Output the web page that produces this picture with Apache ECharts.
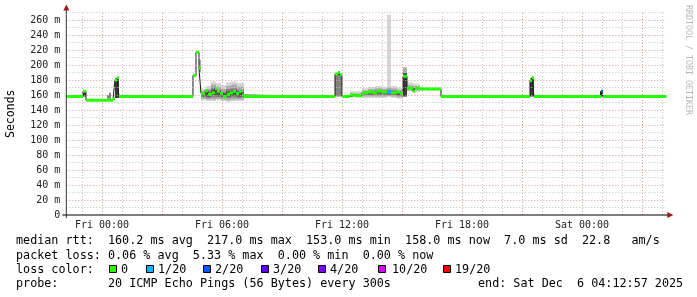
<!DOCTYPE html>
<html>
<head>
<meta charset="utf-8">
<script src="https://cdn.jsdelivr.net/npm/echarts@6/dist/echarts.min.js"></script>
<style>
html,body{margin:0;padding:0;background:#fff;}
#c{width:697px;height:297px;}
</style>
</head>
<body>
<div id="c"></div>
<script>
// ---- axis ranges (hours relative to Fri 00:00) ----
const hourStart = -1.784;
const hourEnd = 28.216;
const yMax = 270;

// ---- tick labels ----
const xTickHours = [0, 6, 12, 18, 24];
const xTickLabels = ['Fri 00:00', 'Fri 06:00', 'Fri 12:00', 'Fri 18:00', 'Sat 00:00'];
const yTickValues = [0, 20, 40, 60, 80, 100, 120, 140, 160, 180, 200, 220, 240, 260];
const yTickLabels = ['0', '20 m', '40 m', '60 m', '80 m', '100 m', '120 m', '140 m', '160 m', '180 m', '200 m', '220 m', '240 m', '260 m'];

// ---- grid lines ----
const xHourGrid = [-1, 1, 2, 4, 5, 7, 8, 10, 11, 13, 14, 16, 17, 19, 20, 22, 23, 25, 26, 28];
const x3HourGrid = [0, 3, 6, 9, 12, 15, 18, 21, 24, 27];
const yMinorGrid = [10, 30, 50, 70, 90, 110, 130, 150, 170, 190, 210, 230, 250, 270];
const yMajorGrid = [20, 40, 60, 80, 100, 120, 140, 160, 180, 200, 220, 240, 260];

// ---- median rtt (ms), each value holds from its time to the next time ----
const medianTimes = [-1.784, -0.95, -0.80, 0.55, 0.65, 0.75, 0.85, 4.55, 4.70, 4.85, 4.95, 5.15, 5.30, 5.50, 5.65, 5.75, 5.90, 6.05, 6.25, 6.40, 6.55, 6.70, 6.85, 7.00, 7.10, 11.65, 11.80, 11.90, 12.00, 12.40, 12.70, 13.00, 13.30, 13.55, 13.75, 14.00, 14.25, 14.45, 14.70, 14.90, 15.05, 15.25, 15.55, 15.65, 15.90, 16.95, 21.40, 21.50, 21.60, 24.95, 25.05, 28.216];
const medianValues = [158, 165, 153, 155, 180, 183, 158, 186, 217, 196, 162, 166, 161, 163, 168, 165, 162, 158, 161, 163, 165, 162, 165, 160, 158, 188, 190, 187, 158, 160, 159, 163, 164, 163, 165, 164, 164, 163, 164, 162, 185, 169, 165, 169, 168, 158, 179, 183, 158, 165, 158, 158];
const medianLoss = [0, 0, 0, 0, 0, 0, 0, 0, 0, 0, 0, 0, 0, 0, 0, 0, 0, 0, 0, 0, 0, 0, 0, 0, 0, 0, 0, 0, 0, 0, 0, 0, 0, 0, 0, 0, 1, 0, 0, 0, 0, 0, 0, 0, 0, 0, 0, 0, 0, 2, 0, 0];

// ---- smoke (ping spread), ms ----
const smokeStart = [-0.95, 0.25, 0.35, 0.65, 4.85,
  4.95, 4.95, 4.95, 4.95, 5.2, 5.2, 5.2, 5.2, 5.45, 5.45, 5.45, 5.45, 5.7, 5.7, 5.7, 5.7,
  5.95, 5.95, 5.95, 5.95, 6.2, 6.2, 6.2, 6.2, 6.45, 6.45, 6.45, 6.45, 6.75, 6.75, 6.75, 6.75,
  11.65,
  12.4, 12.4, 13.0, 13.0, 13.0, 13.3, 13.3, 13.3, 13.3, 13.65, 13.65, 13.65, 13.65, 14.0, 14.0, 14.0, 14.0,
  14.25, 14.25, 14.25, 14.25, 14.45, 14.45, 14.45, 14.45, 14.75, 14.75, 14.75, 14.75,
  15.05, 15.05, 15.25, 15.25, 15.55, 15.55, 15.9,
  21.4, 24.9];
const smokeEnd = [-0.80, 0.35, 0.45, 0.85, 4.95,
  5.2, 5.2, 5.2, 5.2, 5.45, 5.45, 5.45, 5.45, 5.7, 5.7, 5.7, 5.7, 5.95, 5.95, 5.95, 5.95,
  6.2, 6.2, 6.2, 6.2, 6.45, 6.45, 6.45, 6.45, 6.75, 6.75, 6.75, 6.75, 7.1, 7.1, 7.1, 7.1,
  12.0,
  13.0, 13.0, 13.3, 13.3, 13.3, 13.65, 13.65, 13.65, 13.65, 14.0, 14.0, 14.0, 14.0, 14.25, 14.25, 14.25, 14.25,
  14.45, 14.45, 14.45, 14.45, 14.75, 14.75, 14.75, 14.75, 15.05, 15.05, 15.05, 15.05,
  15.25, 15.25, 15.55, 15.55, 15.9, 15.9, 16.95,
  21.6, 25.05];
const smokeLow = [158, 155, 155, 156, 190,
  153, 155, 157, 159, 152, 154, 156, 158, 152, 154, 157, 160, 153, 155, 157, 159,
  152, 154, 156, 158, 151, 153, 156, 158, 152, 154, 157, 159, 152, 154, 156, 158,
  158,
  157, 158, 156, 158, 160, 156, 158, 160, 161, 156, 158, 160, 162, 156, 158, 160, 162,
  160, 158, 160, 162, 156, 158, 160, 161, 155, 157, 159, 160,
  158, 158, 165, 166, 164, 166, 166,
  158, 158];
const smokeHigh = [166, 160, 163, 182, 207,
  168, 165, 163, 162, 172, 168, 165, 163, 178, 174, 170, 167, 176, 171, 167, 165,
  173, 168, 164, 162, 177, 172, 168, 165, 178, 174, 169, 166, 176, 171, 167, 164,
  188,
  165, 162, 169, 166, 164, 171, 168, 165, 164, 172, 169, 166, 165, 171, 168, 166, 165,
  267, 170, 167, 165, 172, 169, 166, 164, 170, 167, 164, 163,
  197, 189, 177, 173, 175, 172, 170,
  182, 165];
const smokeShade = [4, 2, 2, 4, 1,
  0, 1, 2, 3, 0, 1, 2, 3, 0, 1, 2, 3, 0, 1, 2, 3,
  0, 1, 2, 3, 0, 1, 2, 3, 0, 1, 2, 3, 0, 1, 2, 3,
  2,
  0, 1, 0, 1, 2, 0, 1, 2, 3, 0, 1, 2, 3, 0, 1, 2, 3,
  0, 1, 2, 3, 0, 1, 2, 3, 0, 1, 2, 3,
  1, 4, 0, 1, 0, 1, 0,
  4, 4];

// ---- legend texts ----
const statLine1 = 'median rtt:  160.2 ms avg  217.0 ms max  153.0 ms min  158.0 ms now  7.0 ms sd  22.8   am/s';
const statLine2 = 'packet loss: 0.06 % avg  5.33 % max  0.00 % min  0.00 % now';
const lossTitle = 'loss color:';
const lossLabels = ['0', '1/20', '2/20', '3/20', '4/20', '10/20', '19/20'];
const probeLine = 'probe:       20 ICMP Echo Pings (56 Bytes) every 300s';
const endLine = 'end: Sat Dec  6 04:12:57 2025';
const sideText = 'RRDTOOL / TOBI OETIKER';

// ---- styles ----
const lossColors = ['#26ff00', '#00b8ff', '#0059ff', '#5e00ff', '#7e00ff', '#dd00ff', '#ff0000'];
const shadeColors = ['#d6d6d6', '#ababab', '#828282', '#555555', '#3a3a3a'];
const lossSquareX = [109, 146, 203, 261, 318, 378, 443];
const lossTextX = [121, 158, 215, 273, 330, 392, 455];
const MONO = 'DejaVu Sans Mono';

const smokeData = smokeStart.map((s, i) => [s, smokeEnd[i], smokeLow[i], smokeHigh[i], smokeShade[i]]);
const medianRows = [];
for (let i = 0; i < medianTimes.length - 1; i++) {
  medianRows.push([medianTimes[i], medianTimes[i + 1], medianValues[i], medianLoss[i]]);
}
const medianLine = medianTimes.map((t, i) => [t, medianValues[i]]);

const chart = echarts.init(document.getElementById('c'), null, {renderer: 'canvas'});

const gridLeft = 66.3, gridRight = 30.7, gridTop = 12.5, gridBottom = 82;
const plotX0 = gridLeft, plotX1 = 697 - gridRight, plotY0 = gridTop, plotY1 = 297 - gridBottom;

function gridLines(vals, axisKey, color) {
  return vals.map(v => ({[axisKey]: v, lineStyle: {color: color, type: [1, 2], width: 1}}));
}

const graphics = [];
// arrows
graphics.push({type: 'polygon', shape: {points: [[plotX0 - 3, plotY0 - 2], [plotX0 + 3, plotY0 - 2], [plotX0, plotY0 - 8]]}, style: {fill: '#a01818'}, z: 100});
graphics.push({type: 'polygon', shape: {points: [[plotX1 + 1, plotY1 - 3], [plotX1 + 1, plotY1 + 3], [plotX1 + 7, plotY1]]}, style: {fill: '#a01818'}, z: 100});
graphics.push({type: 'line', shape: {x1: plotX0, y1: plotY0 - 3, x2: plotX0, y2: plotY1 + 3}, style: {stroke: '#333', lineWidth: 1}, z: 99});
graphics.push({type: 'line', shape: {x1: plotX0 - 4, y1: plotY1, x2: plotX1 + 2, y2: plotY1}, style: {stroke: '#000', lineWidth: 1}, z: 99});
// side text
graphics.push({type: 'text', x: 688, y: 5, rotation: -Math.PI / 2, style: {text: sideText, font: '8.3px ' + MONO, fill: '#b8b8b8', textAlign: 'left', textVerticalAlign: 'middle'}});
// legend
const legendFont = '11.75px ' + MONO;
graphics.push({type: 'text', x: 16, y: 241, style: {text: statLine1, font: legendFont, fill: '#000', textVerticalAlign: 'middle'}});
graphics.push({type: 'text', x: 16, y: 255.5, style: {text: statLine2, font: legendFont, fill: '#000', textVerticalAlign: 'middle'}});
graphics.push({type: 'text', x: 16, y: 269.5, style: {text: lossTitle, font: legendFont, fill: '#000', textVerticalAlign: 'middle'}});
lossLabels.forEach((lab, i) => {
  graphics.push({type: 'rect', shape: {x: lossSquareX[i] + 0.5, y: 265.5, width: 7, height: 7}, style: {fill: lossColors[i], stroke: '#000', lineWidth: 1}});
  graphics.push({type: 'text', x: lossTextX[i], y: 269.5, style: {text: lab, font: legendFont, fill: '#000', textVerticalAlign: 'middle'}});
});
graphics.push({type: 'text', x: 16, y: 283.5, style: {text: probeLine, font: legendFont, fill: '#000', textVerticalAlign: 'middle'}});
graphics.push({type: 'text', x: 478, y: 283.5, style: {text: endLine, font: legendFont, fill: '#000', textVerticalAlign: 'middle'}});

const option = {
  animation: false,
  backgroundColor: '#fff',
  grid: {left: gridLeft, right: gridRight, top: gridTop, bottom: gridBottom, containLabel: false, outerBoundsMode: 'none'},
  xAxis: {
    type: 'value', min: hourStart, max: hourEnd,
    axisLine: {show: false}, axisTick: {show: false}, splitLine: {show: false},
    axisLabel: {
      customValues: xTickHours,
      formatter: v => { const i = xTickHours.indexOf(Math.round(v)); return i >= 0 ? xTickLabels[i] : ''; },
      fontFamily: MONO, fontSize: 10, color: '#222', margin: 5
    }
  },
  yAxis: {
    type: 'value', min: 0, max: yMax, interval: 10,
    name: 'Seconds', nameLocation: 'middle', nameRotate: 90, nameGap: 49,
    nameTextStyle: {fontFamily: MONO, fontSize: 11.5, color: '#000'},
    axisLine: {show: false}, axisTick: {show: false}, splitLine: {show: false},
    axisLabel: {
      formatter: v => { const i = yTickValues.indexOf(v); return i >= 0 ? yTickLabels[i] : ''; },
      fontFamily: MONO, fontSize: 10, color: '#222', margin: 6
    }
  },
  graphic: graphics,
  series: [
    {
      type: 'line', data: [], z: 1, silent: true,
      markLine: {
        silent: true, symbol: ['none', 'none'], label: {show: false}, animation: false,
        data: [].concat(
          gridLines(yMinorGrid, 'yAxis', '#c4c4c4'),
          gridLines(xHourGrid, 'xAxis', '#c4c4c4'),
          gridLines(yMajorGrid, 'yAxis', '#e29a9a'),
          gridLines(x3HourGrid, 'xAxis', '#e29a9a')
        )
      }
    },
    {
      type: 'custom', z: 3, silent: true, clip: true,
      data: smokeData,
      encode: {x: [0, 1], y: [2, 3]},
      renderItem: (params, api) => {
        const a = api.coord([api.value(0), api.value(3)]);
        const b = api.coord([api.value(1), api.value(2)]);
        const shade = api.value(4);
        return {type: 'rect', z2: shade, shape: {x: a[0], y: a[1], width: b[0] - a[0], height: b[1] - a[1]}, style: {fill: shadeColors[shade]}};
      }
    },
    {
      type: 'line', z: 4, silent: true, data: medianLine, step: 'end', symbol: 'none',
      lineStyle: {color: '#1a1a1a', width: 1}
    },
    {
      type: 'custom', z: 5, silent: true, clip: true,
      data: medianRows,
      encode: {x: [0, 1], y: 2},
      renderItem: (params, api) => {
        const a = api.coord([api.value(0), api.value(2)]);
        const b = api.coord([api.value(1), api.value(2)]);
        return {type: 'rect', shape: {x: a[0], y: a[1] - 1.5, width: b[0] - a[0], height: 3}, style: {fill: lossColors[api.value(3)]}};
      }
    }
  ]
};
chart.setOption(option);
</script>
</body>
</html>
